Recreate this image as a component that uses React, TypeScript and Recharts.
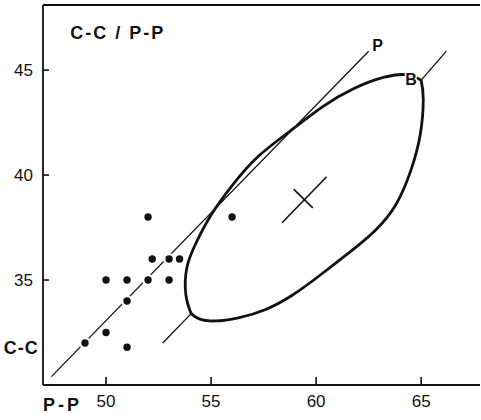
import React from "react";
import {
  ComposedChart,
  Scatter,
  XAxis,
  YAxis,
  ReferenceLine,
  ReferenceDot,
} from "recharts";

const X_TICKS = [50, 55, 60, 65];
const Y_TICKS = [35, 40, 45];

// individual specimens (P-P, C-C)
const specimens = [
  { x: 52, y: 38 },
  { x: 56, y: 38 },
  { x: 52.2, y: 36 },
  { x: 53, y: 36 },
  { x: 53.5, y: 36 },
  { x: 50, y: 35 },
  { x: 51, y: 35 },
  { x: 52, y: 35 },
  { x: 53, y: 35 },
  { x: 51, y: 34 },
  { x: 50, y: 32.5 },
  { x: 49, y: 32 },
  { x: 51, y: 31.8 },
];

// regression line P
const lineP = [
  { x: 47.4, y: 30.4 },
  { x: 62.5, y: 45.9 },
];

// regression line B, outside the envelope
const lineBLow = [
  { x: 52.7, y: 32.0 },
  { x: 54.05, y: 33.4 },
];
const lineBHigh = [
  { x: 65.0, y: 44.52 },
  { x: 66.2, y: 45.9 },
];

// envelope of group B, upper-left and lower-right sides
const envelopeUpper = [
  { x: 54.05, y: 33.4 },
  { x: 53.8, y: 34.3 },
  { x: 53.85, y: 35.6 },
  { x: 54.3, y: 36.8 },
  { x: 55.0, y: 38.1 },
  { x: 56.0, y: 39.5 },
  { x: 57.2, y: 40.85 },
  { x: 58.7, y: 42.05 },
  { x: 60.3, y: 43.25 },
  { x: 61.8, y: 44.12 },
  { x: 63.2, y: 44.65 },
  { x: 64.3, y: 44.78 },
  { x: 65.0, y: 44.52 },
];
const envelopeLower = [
  { x: 65.0, y: 44.52 },
  { x: 65.1, y: 43.6 },
  { x: 64.95, y: 41.9 },
  { x: 64.5, y: 40.2 },
  { x: 63.8, y: 38.6 },
  { x: 62.8, y: 37.35 },
  { x: 61.6, y: 36.33 },
  { x: 60.2, y: 35.24 },
  { x: 58.9, y: 34.3 },
  { x: 57.6, y: 33.6 },
  { x: 56.3, y: 33.2 },
  { x: 55.2, y: 33.05 },
  { x: 54.44, y: 33.15 },
  { x: 54.05, y: 33.4 },
];

// mean cross of group B
const crossLong = [
  { x: 58.38, y: 37.73 },
  { x: 60.5, y: 39.92 },
];
const crossShort = [
  { x: 58.93, y: 39.33 },
  { x: 59.84, y: 38.44 },
];

const INK = "#111";
const FONT = "'Liberation Sans', Arial, sans-serif";

const noDot = () => <g />;

const tag =
  (text: string, size: number, spacing = 0) =>
  (props: any) => {
    const vb = props.viewBox || {};
    const cx = (vb.x || 0) + (vb.width || 0) / 2;
    const cy = (vb.y || 0) + (vb.height || 0) / 2;
    return (
      <text
        x={cx}
        y={cy}
        textAnchor="middle"
        dominantBaseline="central"
        fill={INK}
        fontFamily={FONT}
        fontWeight={700}
        fontSize={size}
        letterSpacing={spacing}
        stroke="#fff"
        strokeWidth={3}
        paintOrder="stroke"
      >
        {text}
      </text>
    );
  };

export default function App() {
  return (
    <div
      style={{
        position: "absolute",
        left: 0,
        top: 0,
        width: 481,
        height: 420,
        background: "#fff",
      }}
    >
      <ComposedChart
        width={481}
        height={420}
        margin={{ top: 5, right: 1, bottom: 0, left: 0 }}
      >
        <XAxis
          type="number"
          dataKey="x"
          domain={[47, 67.8]}
          ticks={X_TICKS}
          height={35}
          tickSize={-8}
          tickMargin={18}
          axisLine={{ stroke: INK, strokeWidth: 1.8 }}
          tickLine={{ stroke: INK, strokeWidth: 1.6 }}
          tick={{ fill: INK, fontSize: 17, fontFamily: FONT }}
        />
        <YAxis
          type="number"
          dataKey="y"
          domain={[30, 48.1]}
          ticks={Y_TICKS}
          width={43}
          tickSize={-6}
          tickMargin={16}
          axisLine={{ stroke: INK, strokeWidth: 1.8 }}
          tickLine={{ stroke: INK, strokeWidth: 1.6 }}
          tick={{ fill: INK, fontSize: 17, fontFamily: FONT }}
        />
        <ReferenceLine y={48.1} stroke={INK} strokeWidth={1.8} />

        <Scatter
          data={lineP}
          fill={INK}
          line={{ stroke: INK, strokeWidth: 1.3 }}
          shape={noDot}
          isAnimationActive={false}
        />
        <Scatter
          data={lineBLow}
          fill={INK}
          line={{ stroke: INK, strokeWidth: 1.3 }}
          shape={noDot}
          isAnimationActive={false}
        />
        <Scatter
          data={lineBHigh}
          fill={INK}
          line={{ stroke: INK, strokeWidth: 1.3 }}
          shape={noDot}
          isAnimationActive={false}
        />
        <Scatter
          data={envelopeUpper}
          fill={INK}
          line={{ stroke: INK, strokeWidth: 2.8 }}
          lineJointType="natural"
          shape={noDot}
          isAnimationActive={false}
        />
        <Scatter
          data={envelopeLower}
          fill={INK}
          line={{ stroke: INK, strokeWidth: 2.8 }}
          lineJointType="natural"
          shape={noDot}
          isAnimationActive={false}
        />
        <Scatter
          data={crossLong}
          fill={INK}
          line={{ stroke: INK, strokeWidth: 1.6 }}
          shape={noDot}
          isAnimationActive={false}
        />
        <Scatter
          data={crossShort}
          fill={INK}
          line={{ stroke: INK, strokeWidth: 1.6 }}
          shape={noDot}
          isAnimationActive={false}
        />

        {/* white halos break the line P around the dots */}
        <Scatter
          data={specimens}
          fill="#fff"
          shape={(p: any) => <circle cx={p.cx} cy={p.cy} r={6} fill="#fff" />}
          isAnimationActive={false}
        />
        <Scatter
          data={specimens}
          fill={INK}
          shape={(p: any) => <circle cx={p.cx} cy={p.cy} r={3.7} fill={INK} />}
          isAnimationActive={false}
        />

        <ReferenceDot x={50.56} y={46.76} r={0} fill="none" stroke="none" ifOverflow="visible" label={tag("C-C / P-P", 18, 2)} />
        <ReferenceDot x={62.93} y={46.19} r={0} fill="none" stroke="none" ifOverflow="visible" label={tag("P", 16)} />
        <ReferenceDot x={64.52} y={44.55} r={0} fill="none" stroke="none" ifOverflow="visible" label={tag("B", 16)} />
        <ReferenceDot x={45.97} y={31.75} r={0} fill="none" stroke="none" ifOverflow="visible" label={tag("C-C", 18, 1)} />
        <ReferenceDot x={47.93} y={29.05} r={0} fill="none" stroke="none" ifOverflow="visible" label={tag("P-P", 18, 3)} />
      </ComposedChart>
    </div>
  );
}
